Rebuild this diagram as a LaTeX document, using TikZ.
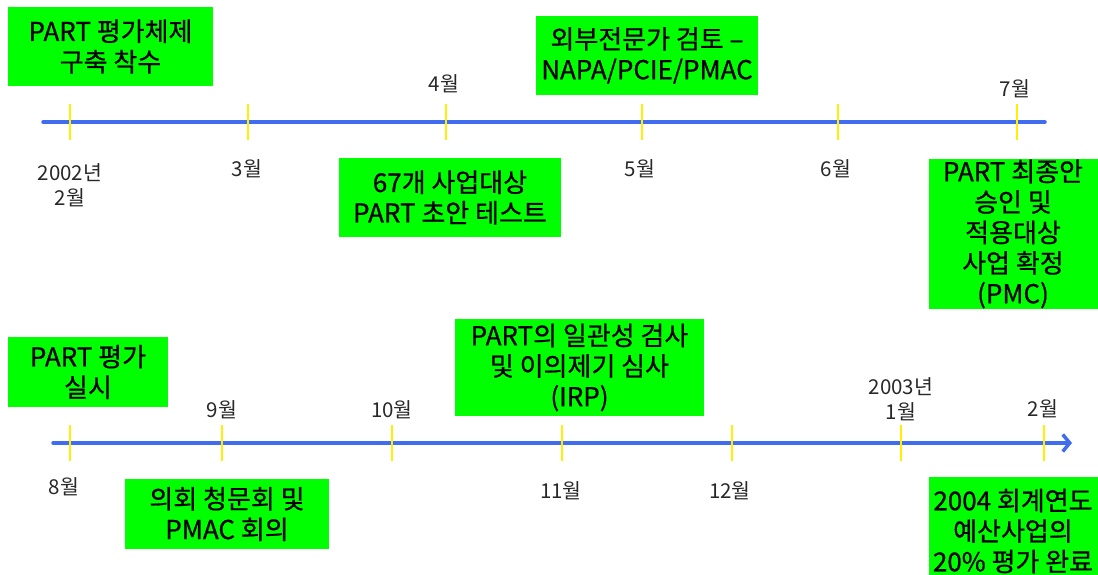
\documentclass[tikz,border=0pt]{standalone}
\usepackage{fontspec}
\setmainfont{Noto Sans CJK KR}
\newfontfamily\boxfont{Noto Sans CJK KR}[FakeBold=0.7]
\usetikzlibrary{arrows.meta}
\definecolor{tlblue}{RGB}{64,108,240}
\definecolor{boxgreen}{RGB}{0,255,0}
\definecolor{tickyellow}{RGB}{255,240,0}
\definecolor{labelgray}{RGB}{40,40,40}
\begin{document}
\begin{tikzpicture}[x=1pt,y=-1pt,
  box/.style={fill=boxgreen, draw=none, inner sep=0pt, align=center, text=black,
    font=\boxfont\fontsize{26}{30.5}\selectfont},
  lbl/.style={inner sep=0pt, align=center, text=labelgray, font=\fontsize{20.5}{24.5}\selectfont},
  tline/.style={draw=tlblue, line width=3.5pt, line cap=round},
  tick/.style={draw=tickyellow, line width=2pt}]
\useasboundingbox (0,0) rectangle (1098,575);

% ---------- top timeline ----------
\coordinate (ts) at (43,122);
\coordinate (te) at (1045,122);
\draw[tline] (ts) -- (te);
\foreach \n/\x in {a/70,b/248,c/446,d/642,e/838,f/1017}{
  \coordinate (t\n1) at (\x,104);
  \coordinate (t\n2) at (\x,140);
  \draw[tick] (t\n1) -- (t\n2);
}
\node[lbl] (l1) at (70,185) {2002년\\2월};
\node[lbl] (l2) at (247,169) {3월};
\node[lbl] (l3) at (444,84) {4월};
\node[lbl] (l4) at (640,169) {5월};
\node[lbl] (l5) at (836,169) {6월};
\node[lbl] (l6) at (1015,89) {7월};

\node[box, minimum width=205pt, minimum height=79pt] (b1) at (110.5,46.5) {PART 평가체제\\구축 착수};
\node[box, minimum width=222pt, minimum height=79pt] (b2) at (450,197.5) {67개 사업대상\\PART 초안 테스트};
\node[box, minimum width=222pt, minimum height=79pt] (b3) at (647,55.5) {외부전문가 검토 –\\NAPA/PCIE/PMAC};
\node[box, minimum width=169pt, minimum height=150pt] (b4) at (1013,234) {PART 최종안\\승인 및\\적용대상\\사업 확정\\(PMC)};

% ---------- bottom timeline ----------
\coordinate (bs) at (53,443);
\coordinate (be) at (1072,443);
\draw[tline, -{Straight Barb[length=7pt,width=17pt]}] (bs) -- (be);
\foreach \n/\x in {a/70,b/222,c/392,d/562,e/732,f/901,g/1044}{
  \coordinate (u\n1) at (\x,425);
  \coordinate (u\n2) at (\x,461);
  \draw[tick] (u\n1) -- (u\n2);
}
\node[lbl] (m1) at (64,487) {8월};
\node[lbl] (m2) at (222,410) {9월};
\node[lbl] (m3) at (392,410) {10월};
\node[lbl] (m4) at (561,491) {11월};
\node[lbl] (m5) at (730,491) {12월};
\node[lbl] (m6) at (901,399) {2003년\\1월};
\node[lbl] (m7) at (1043,409) {2월};

\node[box, minimum width=160pt, minimum height=70pt] (b5) at (88,372) {PART 평가\\실시};
\node[box, minimum width=204pt, minimum height=70pt] (b6) at (227,514) {의회 청문회 및\\PMAC 회의};
\node[box, minimum width=249pt, minimum height=97pt] (b7) at (579.5,367.5) {PART의 일관성 검사\\및 이의제기 심사\\(IRP)};
\node[box, minimum width=169pt, minimum height=108pt] (b8) at (1013,531) {2004 회계연도\\예산사업의\\20\% 평가 완료};
\end{tikzpicture}
\end{document}
